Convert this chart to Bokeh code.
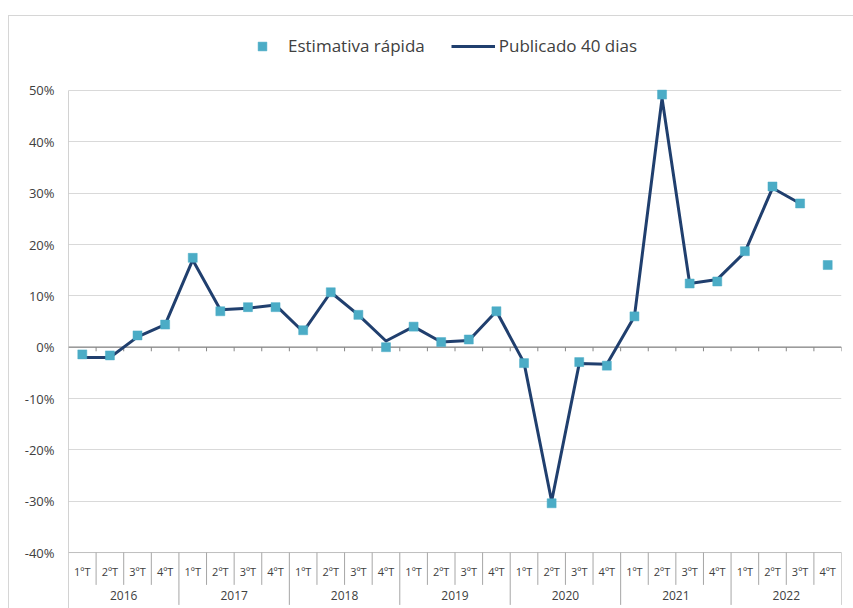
from bokeh.plotting import figure
from bokeh.models import (Legend, LegendItem, FixedTicker,
                          PrintfTickFormatter, Range1d)
from bokeh.core.properties import value
from bokeh.embed import file_html
from bokeh.resources import INLINE

years = ["2016", "2017", "2018", "2019", "2020", "2021", "2022"]
quarters = ["1ºT", "2ºT", "3ºT", "4ºT"]

estimativa = [-1.4, -1.6, 2.3, 4.4,
              17.4, 7.0, 7.8, 7.8,
              3.3, 10.7, 6.3, 0.0,
              4.0, 1.0, 1.5, 7.0,
              -3.1, -30.4, -2.9, -3.6,
              6.0, 49.2, 12.4, 12.8,
              18.7, 31.3, 28.0, 16.0]

publicado = [-2.0, -2.0, 2.0, 4.4,
             17.0, 7.3, 7.6, 8.2,
             3.0, 10.7, 6.3, 1.2,
             4.0, 1.0, 1.3, 7.0,
             -3.0, -30.0, -3.2, -3.3,
             6.0, 48.5, 12.4, 13.2,
             18.5, 31.0, 28.0]

y_ticks = [-40, -30, -20, -10, 0, 10, 20, 30, 40, 50]

FONT = "Open Sans"
TXT = "#404040"

n = len(years) * len(quarters)
x_all = [i + 0.5 for i in range(n)]
q_labels = [q for _ in years for q in quarters]

y_min_grid = min(y_ticks)
y_max_grid = max(y_ticks)
y_bottom = -50.9
y_top = 67.53

p = figure(width=853, height=608, output_backend="svg", toolbar_location=None,
           x_range=Range1d(0, n), y_range=Range1d(y_bottom, y_top),
           min_border_left=68, min_border_right=12, min_border_bottom=0,
           min_border_top=0)
p.outline_line_color = None
p.background_fill_alpha = 0
p.border_fill_alpha = 0
# light chart-area border (left and top edges), drawn behind the canvas
p.styles = {
    "background-color": "white",
    "background-image": "linear-gradient(#d6d6d6, #d6d6d6), linear-gradient(#d6d6d6, #d6d6d6)",
    "background-size": "1px 100%, 100% 1px",
    "background-position": "8px 15px, 8px 15px",
    "background-repeat": "no-repeat",
}
p.xaxis.visible = False
p.xgrid.visible = False

p.yaxis.ticker = FixedTicker(ticks=y_ticks)
p.yaxis.formatter = PrintfTickFormatter(format="%d%%")
p.yaxis.major_tick_out = 0
p.yaxis.major_tick_in = 0
p.yaxis.minor_tick_out = 0
p.yaxis.minor_tick_in = 0
p.yaxis.axis_line_color = None
p.yaxis.major_label_text_font = FONT
p.yaxis.major_label_text_font_size = "13px"
p.yaxis.major_label_text_color = TXT
p.yaxis.major_label_standoff = 14
p.ygrid.ticker = FixedTicker(ticks=y_ticks)
p.ygrid.grid_line_color = "#d9d9d9"
p.ygrid.grid_line_width = 1

# left axis line (from top gridline down through the category table)
p.segment(x0=[0], y0=[y_max_grid], x1=[0], y1=[y_bottom],
          line_color="#a6a6a6", line_width=1)

# bottom table line at -40
p.segment(x0=[0], y0=[y_min_grid], x1=[n], y1=[y_min_grid],
          line_color="#bfbfbf", line_width=1)

# zero axis line and ticks
bounds = list(range(1, n + 1))
p.segment(x0=[0], y0=[0], x1=[n], y1=[0], line_color="#868686", line_width=1.2)
p.segment(x0=bounds, y0=[0] * n, x1=bounds, y1=[-0.8] * n,
          line_color="#868686", line_width=1)

# category separators
q_bounds = [b for b in range(1, n) if b % 4 != 0]
y_bounds = [b for b in range(4, n + 1) if b % 4 == 0]
p.segment(x0=q_bounds, y0=[y_min_grid] * len(q_bounds), x1=q_bounds,
          y1=[-46.3] * len(q_bounds), line_color="#a6a6a6", line_width=1)
p.segment(x0=y_bounds, y0=[y_min_grid] * len(y_bounds), x1=y_bounds,
          y1=[-50.2] * len(y_bounds), line_color="#a6a6a6", line_width=1)

# labels
p.text(x=x_all, y=[-43.6] * n, text=q_labels, text_font=value(FONT),
       text_font_size="11px", text_color=TXT, text_align="center",
       text_baseline="middle")
year_x = [4 * k + 2 for k in range(len(years))]
p.text(x=year_x, y=[-48.4] * len(years), text=years, text_font=value(FONT),
       text_font_size="12px", text_color=TXT, text_align="center",
       text_baseline="middle")

# series
line_r = p.line(x=x_all[:len(publicado)], y=publicado, line_color="#203f6e",
                line_width=3, line_join="round")
mark_r = p.scatter(x=x_all, y=estimativa, marker="square", size=9,
                   fill_color="#4bacc6", line_color="#4bacc6", line_width=0.5)

legend = Legend(items=[LegendItem(label="Estimativa rápida", renderers=[mark_r]),
                       LegendItem(label="Publicado 40 dias", renderers=[line_r])],
                orientation="horizontal", location=(172, 551),
                label_text_font=FONT, label_text_font_size="17px",
                label_text_color=TXT, glyph_width=44, glyph_height=22,
                label_height=22, label_standoff=4, spacing=26, padding=0,
                margin=0, border_line_color=None, background_fill_alpha=0)
p.add_layout(legend, "center")

open("out.html", "w").write(file_html(p, INLINE))
